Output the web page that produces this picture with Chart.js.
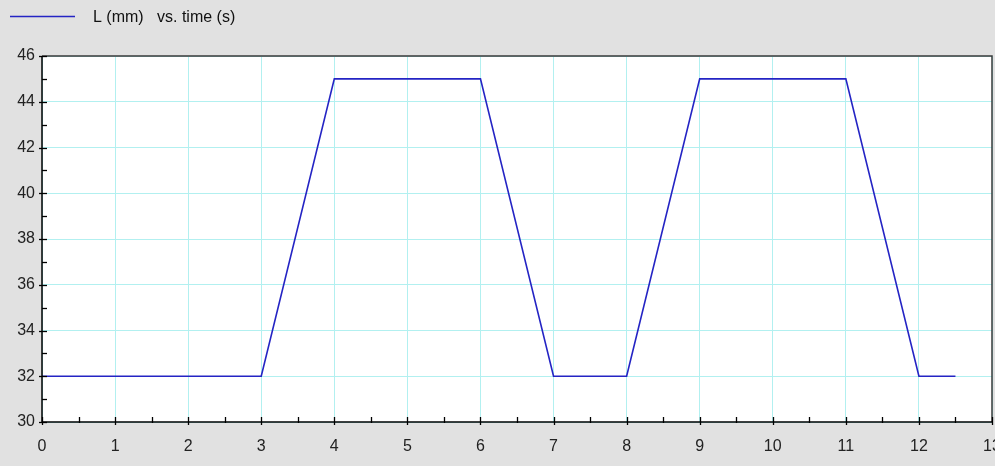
<!DOCTYPE html>
<html>
<head>
<meta charset="utf-8">
<script src="https://cdn.jsdelivr.net/npm/chart.js@4/dist/chart.umd.min.js"></script>
<style>
  html, body { margin: 0; padding: 0; background: #e1e1e1; }
  #wrap { width: 995px; height: 466px; }
</style>
</head>
<body>
<div id="wrap"><canvas id="c" width="995" height="466"></canvas></div>
<script>
// Stroke length L (mm) sampled at the corners of the motion profile
const timeS = [0, 3, 4, 6, 7, 8, 9, 11, 12, 12.5];
const lengthMm = [32, 32, 45, 45, 32, 32, 45, 45, 32, 32];
const seriesLabel = 'L (mm)   vs. time (s)';

const X_MIN = 0, X_MAX = 13, X_STEP = 1, X_MINOR = 0.5;
const Y_MIN = 30, Y_MAX = 46, Y_STEP = 2, Y_MINOR = 1;

const LINE_COLOR = '#2424c4';
const GRID_COLOR = '#b2f0f0';
const FONT = { family: 'Liberation Sans, Arial, sans-serif', size: 16 };

// White plot area, frame, inward tick marks and the legend line
const framePlugin = {
  id: 'frame',
  beforeDraw(chart) {
    const { ctx, chartArea: a } = chart;
    ctx.save();
    ctx.fillStyle = '#ffffff';
    ctx.fillRect(a.left, a.top, a.right - a.left, a.bottom - a.top);
    ctx.restore();
  },
  afterDraw(chart) {
    const { ctx, chartArea: a, scales } = chart;
    const xs = scales.x, ys = scales.y;
    ctx.save();
    // top and right frame
    ctx.strokeStyle = '#3a3a3a';
    ctx.lineWidth = 1.5;
    ctx.beginPath();
    ctx.moveTo(a.left, a.top);
    ctx.lineTo(a.right, a.top);
    ctx.lineTo(a.right, a.bottom);
    ctx.stroke();
    // left and bottom axes
    ctx.strokeStyle = '#000000';
    ctx.lineWidth = 1.5;
    ctx.beginPath();
    ctx.moveTo(a.left, a.top);
    ctx.lineTo(a.left, a.bottom);
    ctx.lineTo(a.right, a.bottom);
    ctx.stroke();
    // x tick marks
    ctx.lineWidth = 1.3;
    for (let v = X_MIN; v <= X_MAX + 1e-9; v += X_MINOR) {
      const px = Math.round(xs.getPixelForValue(v)) + 0.5;
      const major = Math.abs(v - Math.round(v)) < 1e-9;
      ctx.beginPath();
      ctx.moveTo(px, a.bottom - 5);
      ctx.lineTo(px, a.bottom + (major ? 3 : 1));
      ctx.stroke();
    }
    // y tick marks
    for (let v = Y_MIN; v <= Y_MAX + 1e-9; v += Y_MINOR) {
      const py = Math.round(ys.getPixelForValue(v)) + 0.5;
      const major = (v - Y_MIN) % Y_STEP === 0;
      ctx.beginPath();
      ctx.moveTo(a.left - (major ? 3 : 0), py);
      ctx.lineTo(a.left + 5, py);
      ctx.stroke();
    }
    // legend
    const ds = chart.data.datasets[0];
    ctx.strokeStyle = ds.borderColor;
    ctx.lineWidth = 1.5;
    ctx.beginPath();
    ctx.moveTo(10, 16.5);
    ctx.lineTo(75, 16.5);
    ctx.stroke();
    ctx.fillStyle = '#111111';
    ctx.font = `${FONT.size}px ${FONT.family}`;
    ctx.textBaseline = 'middle';
    ctx.textAlign = 'left';
    ctx.fillText(ds.label, 93, 18);
    ctx.restore();
  }
};

new Chart(document.getElementById('c'), {
  type: 'line',
  data: {
    datasets: [{
      label: seriesLabel,
      data: timeS.map((t, i) => ({ x: t, y: lengthMm[i] })),
      borderColor: LINE_COLOR,
      backgroundColor: LINE_COLOR,
      borderWidth: 1.6,
      pointRadius: 0,
      tension: 0,
      fill: false
    }]
  },
  options: {
    responsive: false,
    animation: false,
    devicePixelRatio: 1,
    layout: { padding: { top: 56, right: 3, left: 0, bottom: 0 } },
    plugins: { legend: { display: false }, tooltip: { enabled: false } },
    scales: {
      x: {
        type: 'linear',
        min: X_MIN, max: X_MAX,
        afterFit(s) { s.height = 44; s.paddingLeft = 0; s.paddingRight = 0; },
        border: { display: false },
        grid: { color: GRID_COLOR, lineWidth: 1, drawTicks: false },
        ticks: { stepSize: X_STEP, padding: 15, color: '#222222', font: FONT, maxRotation: 0 }
      },
      y: {
        type: 'linear',
        min: Y_MIN, max: Y_MAX,
        afterFit(s) { s.width = 42; s.paddingTop = 0; s.paddingBottom = 0; },
        border: { display: false },
        grid: { color: GRID_COLOR, lineWidth: 1, drawTicks: false },
        ticks: { stepSize: Y_STEP, padding: 7, color: '#222222', font: FONT }
      }
    }
  },
  plugins: [framePlugin]
});
</script>
</body>
</html>
